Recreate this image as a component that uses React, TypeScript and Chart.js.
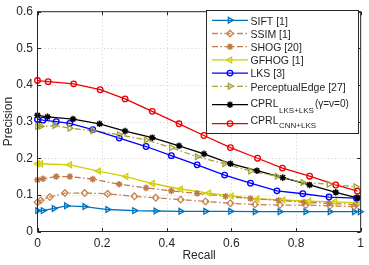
import React, { useEffect, useRef } from 'react';
import { Chart, registerables } from 'chart.js';

Chart.register(...registerables);

// ---- Data ----
const xTickValues = [0, 0.2, 0.4, 0.6, 0.8, 1];
const yTickValues = [0, 0.1, 0.2, 0.3, 0.4, 0.5, 0.6];

const siftRecall = [0, 0.017, 0.051, 0.089, 0.146, 0.217, 0.3, 0.366, 0.443, 0.52, 0.597, 0.673, 0.75, 0.83, 0.905, 0.98, 0.998];
const siftPrecision = [0.057, 0.057, 0.063, 0.07, 0.068, 0.06, 0.057, 0.056, 0.055, 0.055, 0.055, 0.054, 0.054, 0.054, 0.054, 0.054, 0.054];

const ssimRecall = [0, 0.01, 0.038, 0.085, 0.146, 0.217, 0.3, 0.366, 0.443, 0.52, 0.597, 0.673, 0.75, 0.83, 0.905, 0.98];
const ssimPrecision = [0.08, 0.085, 0.094, 0.105, 0.105, 0.103, 0.096, 0.092, 0.087, 0.082, 0.077, 0.074, 0.072, 0.072, 0.07, 0.068];

const shogRecall = [0, 0.017, 0.058, 0.1, 0.171, 0.253, 0.336, 0.414, 0.494, 0.582, 0.659, 0.746, 0.825, 0.902, 0.985];
const shogPrecision = [0.141, 0.144, 0.15, 0.15, 0.143, 0.129, 0.119, 0.111, 0.104, 0.096, 0.09, 0.085, 0.08, 0.077, 0.074];

const gfhogRecall = [0, 0.01, 0.1, 0.189, 0.274, 0.356, 0.443, 0.53, 0.6, 0.68, 0.76, 0.84, 0.92, 0.99];
const gfhogPrecision = [0.185, 0.185, 0.182, 0.165, 0.15, 0.131, 0.116, 0.105, 0.097, 0.089, 0.086, 0.083, 0.081, 0.079];

const lksRecall = [0, 0.017, 0.058, 0.1, 0.171, 0.253, 0.336, 0.414, 0.494, 0.579, 0.659, 0.741, 0.821, 0.902, 0.987];
const lksPrecision = [0.306, 0.304, 0.3, 0.295, 0.278, 0.255, 0.232, 0.207, 0.182, 0.154, 0.132, 0.111, 0.103, 0.094, 0.091];

const peRecall = [0, 0.01, 0.053, 0.1, 0.171, 0.253, 0.336, 0.414, 0.494, 0.579, 0.659, 0.741, 0.821, 0.902, 0.985];
const pePrecision = [0.287, 0.287, 0.289, 0.282, 0.275, 0.264, 0.25, 0.229, 0.204, 0.185, 0.165, 0.151, 0.134, 0.129, 0.122];

const cprlLksRecall = [0, 0.031, 0.11, 0.192, 0.271, 0.355, 0.438, 0.515, 0.597, 0.679, 0.759, 0.842, 0.923, 0.99];
const cprlLksPrecision = [0.317, 0.313, 0.307, 0.294, 0.274, 0.256, 0.234, 0.212, 0.185, 0.166, 0.147, 0.127, 0.107, 0.092];

const cprlCnnRecall = [0, 0.033, 0.112, 0.194, 0.271, 0.355, 0.438, 0.515, 0.597, 0.681, 0.758, 0.842, 0.923, 0.99];
const cprlCnnPrecision = [0.412, 0.409, 0.403, 0.387, 0.362, 0.328, 0.294, 0.262, 0.229, 0.2, 0.173, 0.151, 0.127, 0.11];

const seriesNames = ['SIFT [1]', 'SSIM [1]', 'SHOG [20]', 'GFHOG [1]', 'LKS [3]', 'PerceptualEdge [27]', 'CPRL', 'CPRL'];
const seriesSubscripts = ['', '', '', '', '', '', 'LKS+LKS', 'CNN+LKS'];
const seriesSuffixes = ['', '', '', '', '', '', '(\u03B3=\u03BD=0)', ''];
const xTitle = 'Recall';
const yTitle = 'Precision';

// ---- Styles ----
const FONT = '"Liberation Sans", Arial, Helvetica, sans-serif';
const TEXT = '#262626';
const DASHDOT = [6, 2.5, 1.5, 2.5];

type Marker = { kind: string; rot: number; r: number };
const styles: { color: string; dash: number[]; marker: Marker }[] = [
  { color: '#0072BD', dash: [], marker: { kind: 'triangle', rot: 90, r: 3.3 } },
  { color: '#C8834F', dash: DASHDOT, marker: { kind: 'diamond', rot: 0, r: 3.3 } },
  { color: '#C07A48', dash: DASHDOT, marker: { kind: 'star', rot: 0, r: 3.3 } },
  { color: '#CFCF00', dash: [], marker: { kind: 'triangle', rot: -90, r: 3.3 } },
  { color: '#0000FF', dash: [], marker: { kind: 'circle', rot: 0, r: 2.8 } },
  { color: '#A3A336', dash: DASHDOT, marker: { kind: 'triangle', rot: 90, r: 3.3 } },
  { color: '#000000', dash: [], marker: { kind: 'star', rot: 0, r: 3.3 } },
  { color: '#EE0000', dash: [], marker: { kind: 'circle', rot: 0, r: 2.8 } },
];

const recalls = [siftRecall, ssimRecall, shogRecall, gfhogRecall, lksRecall, peRecall, cprlLksRecall, cprlCnnRecall];
const precisions = [siftPrecision, ssimPrecision, shogPrecision, gfhogPrecision, lksPrecision, pePrecision, cprlLksPrecision, cprlCnnPrecision];

function drawMarker(ctx: CanvasRenderingContext2D, m: Marker, x: number, y: number, color: string) {
  ctx.save();
  ctx.setLineDash([]);
  ctx.strokeStyle = color;
  ctx.fillStyle = color;
  ctx.lineWidth = 1.3;
  ctx.beginPath();
  if (m.kind === 'circle') {
    ctx.arc(x, y, m.r, 0, Math.PI * 2);
    ctx.stroke();
  } else if (m.kind === 'triangle') {
    const a0 = (m.rot * Math.PI) / 180;
    for (let i = 0; i < 3; i++) {
      const a = a0 + (i * 2 * Math.PI) / 3;
      const px = x + Math.sin(a) * m.r;
      const py = y - Math.cos(a) * m.r;
      if (i === 0) ctx.moveTo(px, py);
      else ctx.lineTo(px, py);
    }
    ctx.closePath();
    ctx.stroke();
  } else if (m.kind === 'diamond') {
    ctx.moveTo(x, y - m.r);
    ctx.lineTo(x + m.r, y);
    ctx.lineTo(x, y + m.r);
    ctx.lineTo(x - m.r, y);
    ctx.closePath();
    ctx.stroke();
  } else if (m.kind === 'star') {
    for (let i = 0; i < 4; i++) {
      const a = (i * Math.PI) / 4;
      ctx.moveTo(x - Math.cos(a) * m.r, y - Math.sin(a) * m.r);
      ctx.lineTo(x + Math.cos(a) * m.r, y + Math.sin(a) * m.r);
    }
    ctx.lineWidth = 1.5;
    ctx.stroke();
  }
  ctx.restore();
}

const decorPlugin = {
  id: 'decor',
  beforeDatasetsDraw(chart: any) {
    const { ctx, chartArea: a, scales } = chart;
    ctx.save();
    ctx.strokeStyle = '#cfcfcf';
    ctx.lineWidth = 1;
    ctx.setLineDash([1, 2.5]);
    xTickValues.forEach((v) => {
      const px = Math.round(scales.x.getPixelForValue(v)) + 0.5;
      if (px <= a.left + 1 || px >= a.right - 1) return;
      ctx.beginPath();
      ctx.moveTo(px, a.top);
      ctx.lineTo(px, a.bottom);
      ctx.stroke();
    });
    yTickValues.forEach((v) => {
      const py = Math.round(scales.y.getPixelForValue(v)) + 0.5;
      if (py <= a.top + 1 || py >= a.bottom - 1) return;
      ctx.beginPath();
      ctx.moveTo(a.left, py);
      ctx.lineTo(a.right, py);
      ctx.stroke();
    });
    ctx.restore();
  },
  afterDatasetsDraw(chart: any) {
    const { ctx, chartArea: a, scales } = chart;
    chart.data.datasets.forEach((ds: any, i: number) => {
      const meta = chart.getDatasetMeta(i);
      meta.data.forEach((pt: any) => drawMarker(ctx, styles[i].marker, pt.x, pt.y, styles[i].color));
    });
    ctx.save();
    ctx.setLineDash([]);
    ctx.strokeStyle = TEXT;
    ctx.lineWidth = 1;
    ctx.strokeRect(a.left, a.top, a.right - a.left, a.bottom - a.top);
    const tl = 3.5;
    ctx.beginPath();
    xTickValues.forEach((v) => {
      const px = Math.round(scales.x.getPixelForValue(v)) + 0.5;
      ctx.moveTo(px, a.bottom);
      ctx.lineTo(px, a.bottom - tl);
      ctx.moveTo(px, a.top);
      ctx.lineTo(px, a.top + tl);
    });
    yTickValues.forEach((v) => {
      const py = Math.round(scales.y.getPixelForValue(v)) + 0.5;
      ctx.moveTo(a.left, py);
      ctx.lineTo(a.left + tl, py);
      ctx.moveTo(a.right, py);
      ctx.lineTo(a.right - tl, py);
    });
    ctx.stroke();

    // axis titles
    ctx.fillStyle = TEXT;
    ctx.font = `12px ${FONT}`;
    ctx.textAlign = 'center';
    ctx.textBaseline = 'middle';
    ctx.fillText(xTitle, (a.left + a.right) / 2, 256);
    ctx.save();
    ctx.translate(9, (a.top + a.bottom) / 2);
    ctx.rotate(-Math.PI / 2);
    ctx.fillText(yTitle, 0, 0);
    ctx.restore();

    // legend
    const bx = 206.5, by = 10.5, bw = 152, bh = 123;
    ctx.fillStyle = '#ffffff';
    ctx.fillRect(bx, by, bw, bh);
    ctx.strokeStyle = TEXT;
    ctx.strokeRect(bx, by, bw, bh);
    const rowY = [20.3, 33.5, 46.7, 59.9, 73.1, 86.3, 104.7, 123.6];
    const baseY = [24.5, 37.7, 50.9, 64.1, 77.3, 90.5, 107, 124.3];
    const subBaseY = [0, 0, 0, 0, 0, 0, 113, 128.3];
    seriesNames.forEach((name, i) => {
      const y = rowY[i];
      const st = styles[i];
      ctx.save();
      ctx.strokeStyle = st.color;
      ctx.lineWidth = 1.3;
      ctx.setLineDash(st.dash);
      ctx.beginPath();
      ctx.moveTo(212, y);
      ctx.lineTo(248, y);
      ctx.stroke();
      ctx.restore();
      drawMarker(ctx, st.marker, 230, y, st.color);
      ctx.fillStyle = TEXT;
      ctx.textAlign = 'left';
      ctx.textBaseline = 'alphabetic';
      ctx.font = `10.5px ${FONT}`;
      let tx = 250.5;
      ctx.fillText(name, tx, baseY[i]);
      tx += ctx.measureText(name).width + 0.5;
      if (seriesSubscripts[i]) {
        ctx.font = `8px ${FONT}`;
        ctx.fillText(seriesSubscripts[i], tx, subBaseY[i]);
        tx += ctx.measureText(seriesSubscripts[i]).width + 1;
      }
      if (seriesSuffixes[i]) {
        ctx.font = `10px ${FONT}`;
        ctx.fillText(seriesSuffixes[i], tx, baseY[i]);
      }
    });
    ctx.restore();
  },
};

export default function App() {
  const ref = useRef<HTMLCanvasElement>(null);
  useEffect(() => {
    if (!ref.current) return;
    const datasets = recalls.map((rx, i) => ({
      label: seriesNames[i] + seriesSubscripts[i],
      data: rx.map((x, j) => ({ x, y: precisions[i][j] })),
      borderColor: styles[i].color,
      backgroundColor: styles[i].color,
      borderWidth: 1.3,
      borderDash: styles[i].dash,
      pointRadius: 0,
      pointHoverRadius: 0,
      tension: 0,
      fill: false,
    }));
    const chart = new Chart(ref.current, {
      type: 'line',
      data: { datasets },
      options: {
        animation: false,
        responsive: false,
        devicePixelRatio: 1,
        events: [],
        layout: { padding: { top: 5.5, right: 6.5, left: 0, bottom: 0 } },
        plugins: { legend: { display: false }, tooltip: { enabled: false } },
        scales: {
          x: {
            type: 'linear',
            min: 0,
            max: 1,
            afterBuildTicks: (s: any) => {
              s.ticks = xTickValues.map((v) => ({ value: v }));
            },
            afterFit: (s: any) => {
              s.height = 33.5;
            },
            grid: { display: false, drawTicks: false },
            border: { display: false },
            ticks: {
              padding: 5,
              color: TEXT,
              font: { family: FONT, size: 12 },
              maxRotation: 0,
              callback: (v: any) => String(Math.round(Number(v) * 10) / 10),
            },
          },
          y: {
            type: 'linear',
            min: 0,
            max: 0.6,
            afterBuildTicks: (s: any) => {
              s.ticks = yTickValues.map((v) => ({ value: v }));
            },
            afterFit: (s: any) => {
              s.width = 37.5;
            },
            grid: { display: false, drawTicks: false },
            border: { display: false },
            ticks: {
              padding: 4.5,
              color: TEXT,
              font: { family: FONT, size: 12 },
              callback: (v: any) => String(Math.round(Number(v) * 10) / 10),
            },
          },
        },
      },
      plugins: [decorPlugin],
    });
    return () => chart.destroy();
  }, []);
  return (
    <div style={{ position: 'fixed', left: 0, top: 0, width: 369, height: 265, background: '#fff' }}>
      <canvas ref={ref} width={369} height={265} style={{ display: 'block' }} />
    </div>
  );
}
